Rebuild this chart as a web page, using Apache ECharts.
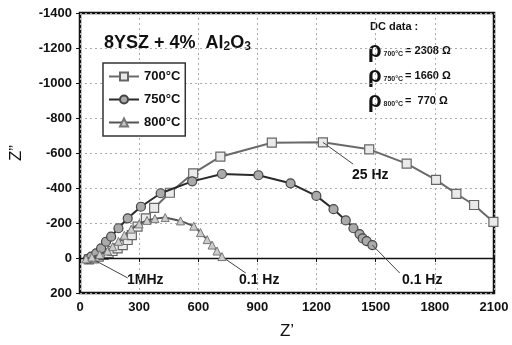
<!DOCTYPE html>
<html><head><meta charset="utf-8">
<script src="https://cdn.jsdelivr.net/npm/echarts@6/dist/echarts.min.js"></script>
<style>html,body{margin:0;padding:0;background:#fff}#c{width:512px;height:345px}</style>
</head><body><div id="c"></div>
<script>
// Nyquist data: [Z', Z''] (Z'' negative = upward)
const s700 = [[45,8],[70,2],[95,-8],[120,-18],[145,-28],[165,-40],[191,-55],[217,-74],[242,-103],[263,-131],[292,-179],[334,-227],[376,-286],[456,-373],[574,-484],[712,-579],[973,-659],[1232,-661],[1467,-621],[1657,-539],[1806,-446],[1909,-367],[1999,-303],[2097,-206]];
const s750 = [[40,5],[57,-8],[82,-27],[107,-55],[132,-93],[158,-122],[195,-170],[242,-227],[309,-293],[409,-370],[569,-438],[720,-480],[905,-473],[1068,-427],[1199,-355],[1286,-279],[1348,-215],[1387,-170],[1418,-137],[1434,-112],[1454,-97],[1483,-74]];
const s800 = [[30,5],[60,-5],[100,-20],[140,-40],[166,-65],[195,-95],[225,-130],[260,-165],[300,-195],[340,-215],[380,-225],[432,-231],[510,-212],[577,-182],[611,-145],[645,-105],[670,-74],[695,-40],[720,-8]];
const seriesNames = ['700°C','750°C','800°C'];
const xTicks = {min:0, max:2100, interval:300};
const yTicks = {min:-1400, max:200, interval:200};
// annotation leader lines: [from, to]
const leaders = [
  [[1232,-661],[1385,-537]],
  [[62,5],[242,114]],
  [[722,-6],[841,86]],
  [[1483,-74],[1622,86]]
];

const chart = echarts.init(document.getElementById('c'));
const FONT = 'Liberation Sans, Arial, sans-serif';
const grid = {left:77, right:18, top:13, bottom:52};
chart.setOption({
  animation:false,
  textStyle:{fontFamily:FONT},
  grid: Object.assign({show:true, borderColor:'#111', borderWidth:2.5, backgroundColor:'#fff'}, grid),
  legend:{
    data:seriesNames, orient:'vertical', left:103, top:63,
    itemWidth:30, itemHeight:10, itemGap:10,
    padding:[7,5,7,5], borderColor:'#333', borderWidth:1.5, backgroundColor:'#fff',
    textStyle:{fontFamily:FONT, fontSize:13, fontWeight:'bold', color:'#111'}
  },
  xAxis:{
    type:'value', min:xTicks.min, max:xTicks.max, interval:xTicks.interval,
    name:"Z’", nameLocation:'middle', nameGap:30,
    nameTextStyle:{fontFamily:FONT, fontSize:17, color:'#111'},
    axisLine:{show:false}, axisTick:{show:true, length:4, lineStyle:{color:'#111'}},
    axisLabel:{fontFamily:FONT, fontSize:13, fontWeight:'bold', color:'#111', margin:8, formatter:v=>String(v)},
    splitLine:{show:true, lineStyle:{color:'#aaa', type:[2,3], width:1}}
  },
  yAxis:{
    type:'value', inverse:true, min:yTicks.min, max:yTicks.max, interval:yTicks.interval,
    name:"Z”", nameLocation:'middle', nameGap:55, nameRotate:90,
    nameTextStyle:{fontFamily:FONT, fontSize:17, color:'#111'},
    axisLine:{show:false}, axisTick:{show:true, length:4, lineStyle:{color:'#111'}},
    axisLabel:{fontFamily:FONT, fontSize:13, fontWeight:'bold', color:'#111', margin:8, formatter:v=>String(v)},
    splitLine:{show:true, lineStyle:{color:'#aaa', type:[2,3], width:1}}
  },
  series:[
    {name:seriesNames[0], type:'line', data:s700, symbol:'rect', symbolSize:9,
     lineStyle:{color:'#6a6a6a', width:2}, itemStyle:{color:'#eaeaea', borderColor:'#666', borderWidth:1.2}, z:3,
     markLine:{silent:true, symbol:'none', label:{show:false},
       lineStyle:{color:'#111', type:'solid', width:1.3},
       data:[[{coord:[xTicks.min,0]},{coord:[xTicks.max,0]}]]}},
    {name:seriesNames[1], type:'line', data:s750, symbol:'circle', symbolSize:9,
     lineStyle:{color:'#2a2a2a', width:2}, itemStyle:{color:'#aaa', borderColor:'#444', borderWidth:1.2}, z:4},
    {name:seriesNames[2], type:'line', data:s800, symbol:'triangle', symbolSize:8,
     lineStyle:{color:'#555', width:2}, itemStyle:{color:'#ccc', borderColor:'#777', borderWidth:1}, z:5,
     markLine:{silent:true, symbol:'none', label:{show:false},
       lineStyle:{color:'#444', type:'solid', width:1},
       data: leaders.map(l=>[{coord:l[0]},{coord:l[1]}])}}
  ],
  graphic:[
    {type:'text', left:104, top:34, style:{
      text:'{b|8YSZ + 4%  Al}{s|2}{b|O}{s|3}',
      rich:{b:{fontFamily:FONT, fontSize:18, fontWeight:'bold', fill:'#111'},
            s:{fontFamily:FONT, fontSize:12, fontWeight:'bold', fill:'#111', padding:[7,0,0,0]}}}},
    {type:'text', left:370, top:21, style:{text:'DC data :', fontFamily:FONT, fontSize:11, fontWeight:'bold', fill:'#111'}},
    {type:'text', left:368, top:40, style:{
      text:'{r|ρ}{s| 700°C }{v|= 2308 Ω}\n{r|ρ}{s| 750°C }{v|= 1660 Ω}\n{r|ρ}{s| 800°C }{v|=  770 Ω}',
      rich:{r:{fontFamily:FONT, fontSize:22, fontWeight:'bold', fill:'#111', lineHeight:25},
            s:{fontFamily:FONT, fontSize:7, fontWeight:'bold', fill:'#222', padding:[6,0,0,0]},
            v:{fontFamily:FONT, fontSize:11, fontWeight:'bold', fill:'#111'}}}},
    {type:'text', left:352, top:168, style:{text:'25 Hz', fontFamily:FONT, fontSize:14, fontWeight:'bold', fill:'#111'}},
    {type:'text', left:127, top:273, style:{text:'1MHz', fontFamily:FONT, fontSize:14, fontWeight:'bold', fill:'#111'}},
    {type:'text', left:239, top:273, style:{text:'0.1 Hz', fontFamily:FONT, fontSize:14, fontWeight:'bold', fill:'#111'}},
    {type:'text', left:402, top:273, style:{text:'0.1 Hz', fontFamily:FONT, fontSize:14, fontWeight:'bold', fill:'#111'}}
  ]
});
</script></body></html>
